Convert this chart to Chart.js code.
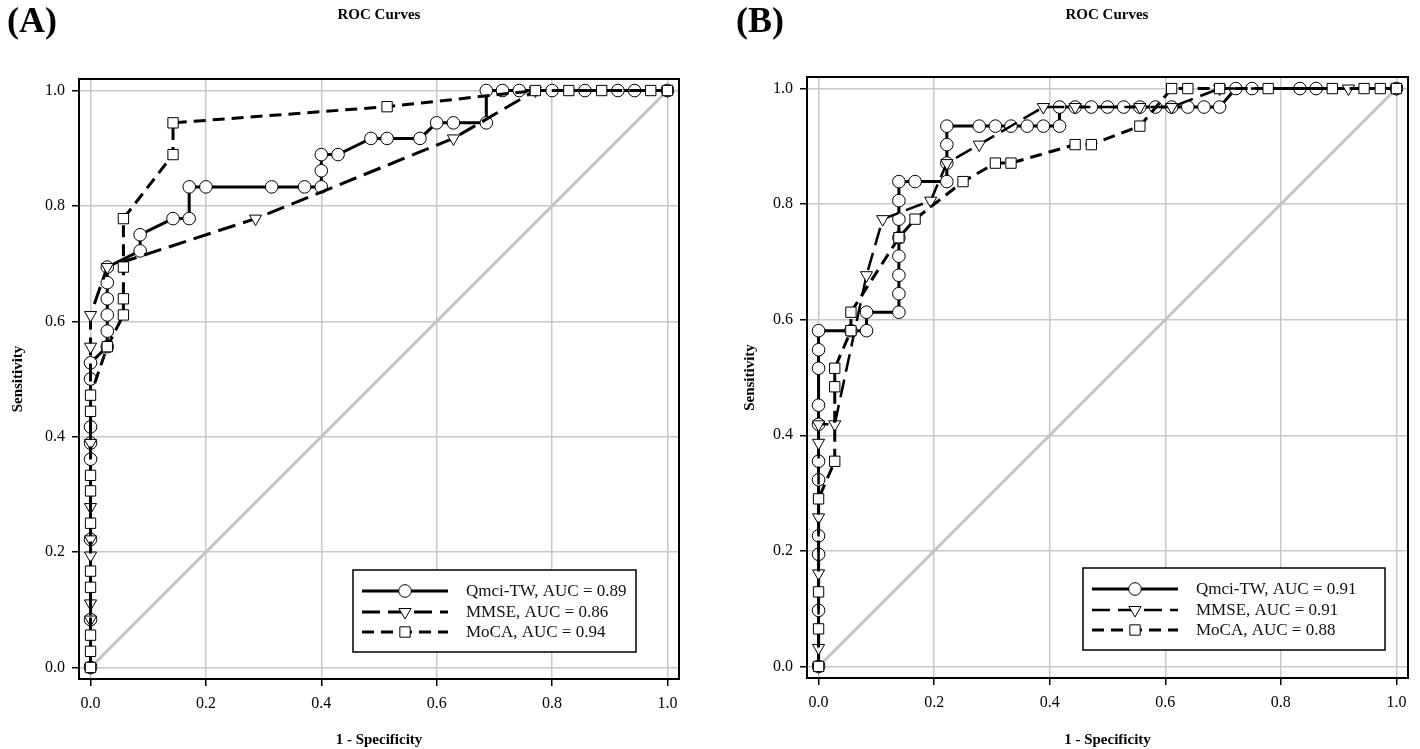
<!DOCTYPE html>
<html><head><meta charset="utf-8">
<script src="https://cdn.jsdelivr.net/npm/chart.js@4.4.1/dist/chart.umd.min.js"></script>
<style>
html,body{margin:0;padding:0;background:#fff;width:1420px;height:749px;overflow:hidden;}
.panel{position:absolute;top:0;width:710px;height:749px;}
.panel canvas{display:block;}
.lbl{position:absolute;font-family:"Liberation Serif","Times New Roman",serif;font-weight:bold;color:#000;white-space:nowrap;}
</style></head><body>
<div class="panel" style="left:0"><canvas id="cA" width="710" height="749"></canvas></div>
<div class="panel" style="left:710px"><canvas id="cB" width="710" height="749"></canvas></div>
<div class="lbl" style="left:7px;top:-1px;font-size:36px">(A)</div>
<div class="lbl" style="left:736px;top:-1px;font-size:36px">(B)</div>
<div class="lbl" style="left:279px;width:200px;text-align:center;top:6px;font-size:15px">ROC Curves</div>
<div class="lbl" style="left:1007px;width:200px;text-align:center;top:6px;font-size:15px">ROC Curves</div>
<script>
// ---------- data ----------
const tickValues = [0, 0.2, 0.4, 0.6, 0.8, 1.0];
const seriesNames = ['Qmci-TW', 'MMSE', 'MoCA'];
const aucA = [0.89, 0.86, 0.94];
const aucB = [0.91, 0.91, 0.88];
const refX = [0, 1];
const refY = [0, 1];

// Panel A
const qmciA_x = [0,0,0,0,0,0,0,0, 0.029,0.029,0.029,0.029,0.029,0.029, 0.086,0.086, 0.143, 0.171,0.171, 0.2, 0.314, 0.371, 0.4,0.4,0.4, 0.429, 0.486, 0.514, 0.571, 0.6, 0.629, 0.686,0.686, 0.714, 0.743, 0.8, 0.857, 0.914, 0.943, 1.0];
const qmciA_y = [0,0.083,0.222,0.361,0.389,0.417,0.5,0.528, 0.556,0.583,0.611,0.639,0.667,0.694, 0.722,0.75, 0.778, 0.778,0.833, 0.833, 0.833, 0.833, 0.833,0.861,0.889, 0.889, 0.917, 0.917, 0.917, 0.944, 0.944, 0.944,1, 1, 1, 1, 1, 1, 1, 1];
const mmseA_x = [0,0,0,0,0,0,0,0,0,0.029,0.286,0.629,0.771,1.0];
const mmseA_y = [0,0.083,0.111,0.194,0.222,0.278,0.389,0.556,0.611,0.694,0.778,0.917,1,1];
const mocaA_x = [0,0,0,0,0,0,0,0,0,0,0.029,0.057,0.057,0.057,0.057,0.143,0.143,0.514,0.771,0.829,0.886,0.971,1.0];
const mocaA_y = [0,0.028,0.056,0.139,0.167,0.25,0.306,0.333,0.444,0.472,0.556,0.611,0.639,0.694,0.778,0.889,0.944,0.972,1,1,1,1,1];

// Panel B
const qmciB_x = [0,0,0,0,0,0,0,0,0,0,0, 0.056,0.083,0.083,0.139,0.139,0.139,0.139,0.139,0.139,0.139,0.139, 0.167,0.222,0.222,0.222,0.222, 0.278,0.306,0.333,0.361,0.389,0.417,0.417, 0.444,0.472,0.5,0.528,0.556,0.583,0.611,0.639,0.667,0.694, 0.722,0.75,0.833,0.861,1.0];
const qmciB_y = [0,0.097,0.194,0.226,0.323,0.355,0.419,0.452,0.516,0.548,0.581, 0.581,0.581,0.613,0.613,0.645,0.677,0.71,0.742,0.774,0.806,0.839, 0.839,0.839,0.871,0.903,0.935, 0.935,0.935,0.935,0.935,0.935,0.935,0.968, 0.968,0.968,0.968,0.968,0.968,0.968,0.968,0.968,0.968,0.968, 1,1,1,1,1];
const mmseB_x = [0,0,0,0,0,0,0.028,0.083,0.111,0.194,0.222,0.278,0.389,0.444,0.556,0.611,0.694,0.917,1.0];
const mmseB_y = [0,0.032,0.161,0.258,0.387,0.419,0.419,0.677,0.774,0.806,0.871,0.903,0.968,0.968,0.968,0.968,1,1,1];
const mocaB_x = [0,0,0,0,0.028,0.028,0.028,0.056,0.056,0.139,0.167,0.25,0.306,0.333,0.444,0.472,0.556,0.611,0.639,0.694,0.778,0.889,0.944,0.972,1.0];
const mocaB_y = [0,0.065,0.129,0.29,0.355,0.484,0.516,0.581,0.613,0.742,0.774,0.839,0.871,0.871,0.903,0.903,0.935,1,1,1,1,1,1,1,1];

// ---------- helpers ----------
const SERIF = '"Liberation Serif","Times New Roman",serif';
function zip(xs, ys) { return xs.map((x, i) => ({x: x, y: ys[i]})); }

const styles = [
  {dash: [], width: 3, point: 'circle', radius: 6.3, rotation: 0, order: 3},
  {dash: [18, 8], width: 3, point: 'triangle', radius: 7, rotation: 180, order: 2},
  {dash: [12, 7], width: 3, point: 'rect', radius: 7.3, rotation: 0, order: 1}
];

function drawMarker(ctx, kind, x, y) {
  ctx.save();
  ctx.setLineDash([]);
  ctx.fillStyle = '#fff';
  ctx.strokeStyle = '#000';
  ctx.lineWidth = 1;
  ctx.beginPath();
  if (kind === 'circle') {
    ctx.arc(x, y, 6.3, 0, Math.PI * 2);
  } else if (kind === 'rect') {
    const s = 7.3 * Math.SQRT1_2;
    ctx.rect(x - s, y - s, 2 * s, 2 * s);
  } else {
    const r = 7;
    let rad = Math.PI;
    ctx.moveTo(x + Math.sin(rad) * r, y - Math.cos(rad) * r);
    rad += 2 * Math.PI / 3;
    ctx.lineTo(x + Math.sin(rad) * r, y - Math.cos(rad) * r);
    rad += 2 * Math.PI / 3;
    ctx.lineTo(x + Math.sin(rad) * r, y - Math.cos(rad) * r);
    ctx.closePath();
  }
  ctx.fill();
  ctx.stroke();
  ctx.restore();
}

const framePlugin = {
  id: 'frame',
  beforeDatasetsDraw(chart) {
    const a = chart.chartArea, ctx = chart.ctx;
    ctx.save();
    ctx.strokeStyle = '#000';
    ctx.lineWidth = 2;
    ctx.strokeRect(a.left, a.top, a.right - a.left, a.bottom - a.top);
    ctx.restore();
  }
};

const legendPlugin = {
  id: 'rocLegend',
  afterDatasetsDraw(chart, args, opts) {
    const a = chart.chartArea, ctx = chart.ctx;
    const bx = a.left + opts.dx, by = a.top + opts.dy;
    ctx.save();
    ctx.fillStyle = '#fff';
    ctx.fillRect(bx, by, opts.w, opts.h);
    ctx.strokeStyle = '#000';
    ctx.lineWidth = 1.5;
    ctx.strokeRect(bx, by, opts.w, opts.h);
    const rows = [21, 42, 62];
    opts.labels.forEach((lab, i) => {
      const st = styles[i];
      const y = by + rows[i];
      ctx.save();
      ctx.strokeStyle = '#000';
      ctx.lineWidth = opts.widths[i];
      ctx.setLineDash(st.dash);
      ctx.beginPath();
      ctx.moveTo(bx + 9, y);
      ctx.lineTo(bx + 95, y);
      ctx.stroke();
      ctx.restore();
      drawMarker(ctx, st.point, bx + 52, y);
      ctx.fillStyle = '#111';
      ctx.font = '17px ' + SERIF;
      ctx.textBaseline = 'middle';
      ctx.textAlign = 'left';
      ctx.fillText(lab, bx + 113, y + 1);
    });
    ctx.restore();
  }
};

function makeChart(id, series, auc, geo) {
  const datasets = series.map((s, i) => ({
    label: seriesNames[i],
    data: zip(s[0], s[1]),
    showLine: true,
    borderColor: '#000',
    borderWidth: geo.widths[i],
    borderDash: styles[i].dash,
    pointStyle: styles[i].point,
    pointRadius: styles[i].radius,
    pointRotation: styles[i].rotation,
    pointBackgroundColor: '#fff',
    pointBorderColor: '#000',
    pointBorderWidth: 1,
    pointHoverRadius: styles[i].radius,
    tension: 0,
    order: styles[i].order
  }));
  datasets.push({
    label: 'ref',
    data: zip(refX, refY),
    showLine: true,
    borderColor: '#c3c3c3',
    borderWidth: 3,
    pointRadius: 0,
    order: 9
  });
  const tickFont = {family: SERIF, size: 16};
  const titleFont = {family: SERIF, size: 15, weight: 'bold'};
  return new Chart(document.getElementById(id), {
    type: 'scatter',
    data: {datasets},
    options: {
      responsive: false,
      animation: false,
      devicePixelRatio: 1,
      layout: {padding: {left: 0, top: geo.top, right: 710 - geo.right, bottom: 0}},
      plugins: {
        legend: {display: false},
        tooltip: {enabled: false},
        title: {display: false},
        rocLegend: {dx: geo.lx, dy: geo.ly, w: geo.lw, h: geo.lh, widths: geo.widths,
          labels: seriesNames.map((n, i) => n + ', AUC = ' + auc[i].toFixed(2))}
      },
      scales: {
        x: {
          type: 'linear', min: -0.02, max: 1.02,
          afterBuildTicks: s => { s.ticks = tickValues.map(v => ({value: v})); },
          afterFit: s => { s.height = 749 - geo.bottom; },
          ticks: {font: tickFont, color: '#000', padding: 8, callback: v => Number(v).toFixed(1)},
          grid: {color: '#c8c8c8', lineWidth: 1.5, tickColor: '#000', tickLength: 7, tickWidth: 1.5, drawTicks: true},
          border: {display: false},
          title: {display: true, text: '1 - Specificity', font: titleFont, color: '#000', padding: {top: 0, bottom: 0}}
        },
        y: {
          type: 'linear', min: -0.02, max: 1.02,
          afterBuildTicks: s => { s.ticks = tickValues.map(v => ({value: v})); },
          afterFit: s => { s.width = geo.left; },
          ticks: {font: tickFont, color: '#000', padding: 7, callback: v => Number(v).toFixed(1)},
          grid: {color: '#c8c8c8', lineWidth: 1.5, tickColor: '#000', tickLength: 7, tickWidth: 1.5, drawTicks: true},
          border: {display: false},
          title: {display: true, text: 'Sensitivity', font: titleFont, color: '#000', padding: {top: geo.ytitle, bottom: 0}}
        }
      }
    },
    plugins: [framePlugin, legendPlugin]
  });
}

makeChart('cA', [[qmciA_x, qmciA_y], [mmseA_x, mmseA_y], [mocaA_x, mocaA_y]], aucA,
  {left: 79, right: 679, top: 79, bottom: 679, ytitle: 9, lx: 274, ly: 491, lw: 283, lh: 82, widths: [3, 3, 3]});
makeChart('cB', [[qmciB_x, qmciB_y], [mmseB_x, mmseB_y], [mocaB_x, mocaB_y]], aucB,
  {left: 97, right: 698, top: 77, bottom: 678, ytitle: 31, lx: 276, ly: 491, lw: 302, lh: 82, widths: [3, 2.5, 3]});
</script>
</body></html>
